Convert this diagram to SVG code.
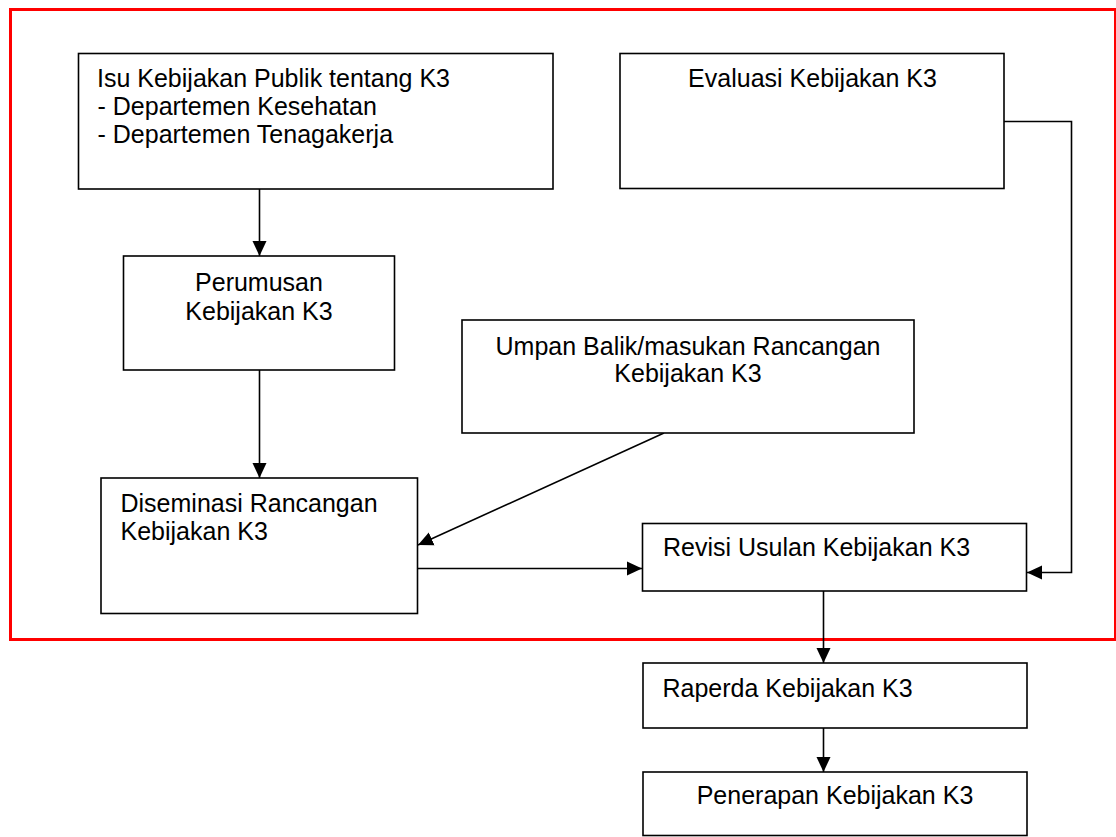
<svg xmlns="http://www.w3.org/2000/svg" width="1116" height="837" viewBox="0 0 1116 837">
<style>
.box{fill:#fff;stroke:#000;stroke-width:1.6}
.t{font-family:"Liberation Sans",Arial,sans-serif;font-size:25px;fill:#000}
.c{text-anchor:middle}
.ln{fill:none;stroke:#000;stroke-width:1.6}
</style>
<defs>
<marker id="ah" markerUnits="userSpaceOnUse" markerWidth="16" markerHeight="16" viewBox="0 0 16 16" refX="15" refY="8" orient="auto">
<path d="M0,1 L15,8 L0,15 Z" fill="#000"/>
</marker>
</defs>
<rect x="10.5" y="9.5" width="1105" height="630" fill="none" stroke="#ff0000" stroke-width="3"/>
<g id="connectors">
<line class="ln" x1="259.5" y1="189" x2="259.5" y2="256" marker-end="url(#ah)"/>
<line class="ln" x1="259.5" y1="370" x2="259.5" y2="478" marker-end="url(#ah)"/>
<line class="ln" x1="664" y1="433" x2="418" y2="545" marker-end="url(#ah)"/>
<line class="ln" x1="417" y1="568.5" x2="642" y2="568.5" marker-end="url(#ah)"/>
<polyline class="ln" points="1004,121.5 1071.5,121.5 1071.5,572.5 1027,572.5" marker-end="url(#ah)"/>
<line class="ln" x1="823.5" y1="591" x2="823.5" y2="663" marker-end="url(#ah)"/>
<line class="ln" x1="823.5" y1="728" x2="823.5" y2="772" marker-end="url(#ah)"/>
</g>
<g id="isu">
<rect class="box" x="78.5" y="53.5" width="474.5" height="135.5"/>
<text class="t" x="97" y="87">Isu Kebijakan Publik tentang K3</text>
<text class="t" x="97.5" y="115">- Departemen Kesehatan</text>
<text class="t" x="97.5" y="143">- Departemen Tenagakerja</text>
</g>
<g id="evaluasi">
<rect class="box" x="620" y="53.5" width="384" height="135"/>
<text class="t c" x="812.5" y="86.5">Evaluasi Kebijakan K3</text>
</g>
<g id="perumusan">
<rect class="box" x="123.5" y="256" width="271" height="114"/>
<text class="t c" x="259" y="291">Perumusan</text>
<text class="t c" x="259" y="319.5">Kebijakan K3</text>
</g>
<g id="umpan">
<rect class="box" x="462" y="320" width="452" height="113"/>
<text class="t c" x="688" y="354.5">Umpan Balik/masukan Rancangan</text>
<text class="t c" x="688" y="382">Kebijakan K3</text>
</g>
<g id="diseminasi">
<rect class="box" x="101" y="478" width="316.5" height="135.5"/>
<text class="t" x="120.5" y="511.5">Diseminasi Rancangan</text>
<text class="t" x="120.5" y="540">Kebijakan K3</text>
</g>
<g id="revisi">
<rect class="box" x="642.5" y="523.5" width="384" height="67.5"/>
<text class="t" x="663" y="555.5">Revisi Usulan Kebijakan K3</text>
</g>
<g id="raperda">
<rect class="box" x="643" y="663" width="384" height="65"/>
<text class="t" x="662.5" y="696.5">Raperda Kebijakan K3</text>
</g>
<g id="penerapan">
<rect class="box" x="643" y="772" width="384" height="63.5"/>
<text class="t c" x="835" y="804">Penerapan Kebijakan K3</text>
</g>
</svg>
